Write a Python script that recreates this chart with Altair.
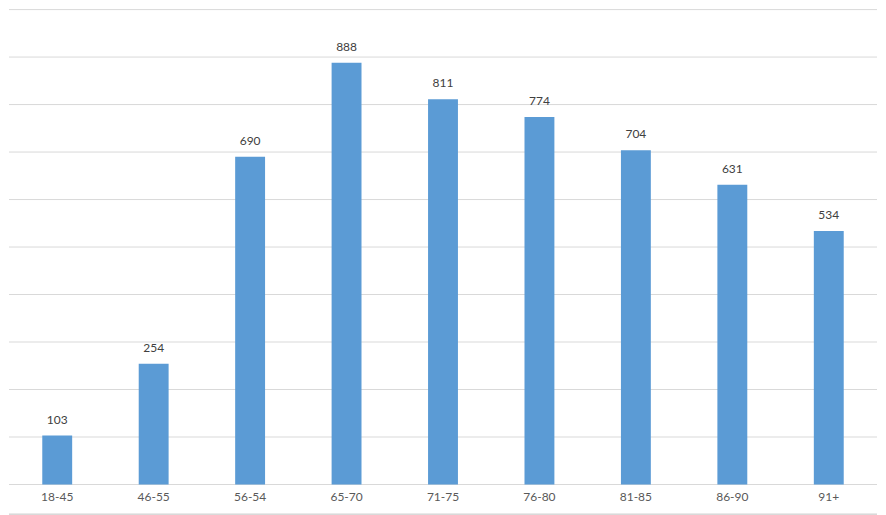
import altair as alt
import pandas as pd

age_groups = ["18-45", "46-55", "56-54", "65-70", "71-75", "76-80", "81-85", "86-90", "91+"]
counts = [103, 254, 690, 888, 811, 774, 704, 631, 534]
grid_values = [0, 100, 200, 300, 400, 500, 600, 700, 800, 900, 1000]

df = pd.DataFrame({"group": age_groups, "count": counts})
grid_df = pd.DataFrame({"v": grid_values})

W, H = 870, 476
font = "Lato"
yscale = alt.Scale(domain=[0, 1000])

grid = alt.Chart(grid_df).mark_rule(color="#D9D9D9").encode(
    y=alt.Y("v:Q", scale=yscale, axis=None)
)

base = alt.Chart(df).encode(
    x=alt.X("group:N", sort=age_groups, title=None,
            scale=alt.Scale(paddingInner=0.69, paddingOuter=0.345),
            axis=alt.Axis(labelAngle=0, ticks=False, domain=False,
                          labelColor="#595959", labelFontSize=12, labelFont=font,
                          labelPadding=7)),
    y=alt.Y("count:Q", title=None, scale=yscale, axis=None),
)

bars = base.mark_bar(color="#5B9BD5")

labels = base.mark_text(dy=-9, baseline="bottom", fontSize=12,
                        font=font, color="#404040").encode(text="count:Q")

border = alt.Chart(df).mark_rule(color="#D9D9D9").encode(
    x=alt.value(0), x2=alt.value(W), y=alt.value(H + 30)
)

chart = (grid + bars + labels + border).properties(
    width=W, height=H, padding=0
).configure_view(stroke=None)

chart.save("out.html", embed_options={"renderer": "svg", "actions": False})
